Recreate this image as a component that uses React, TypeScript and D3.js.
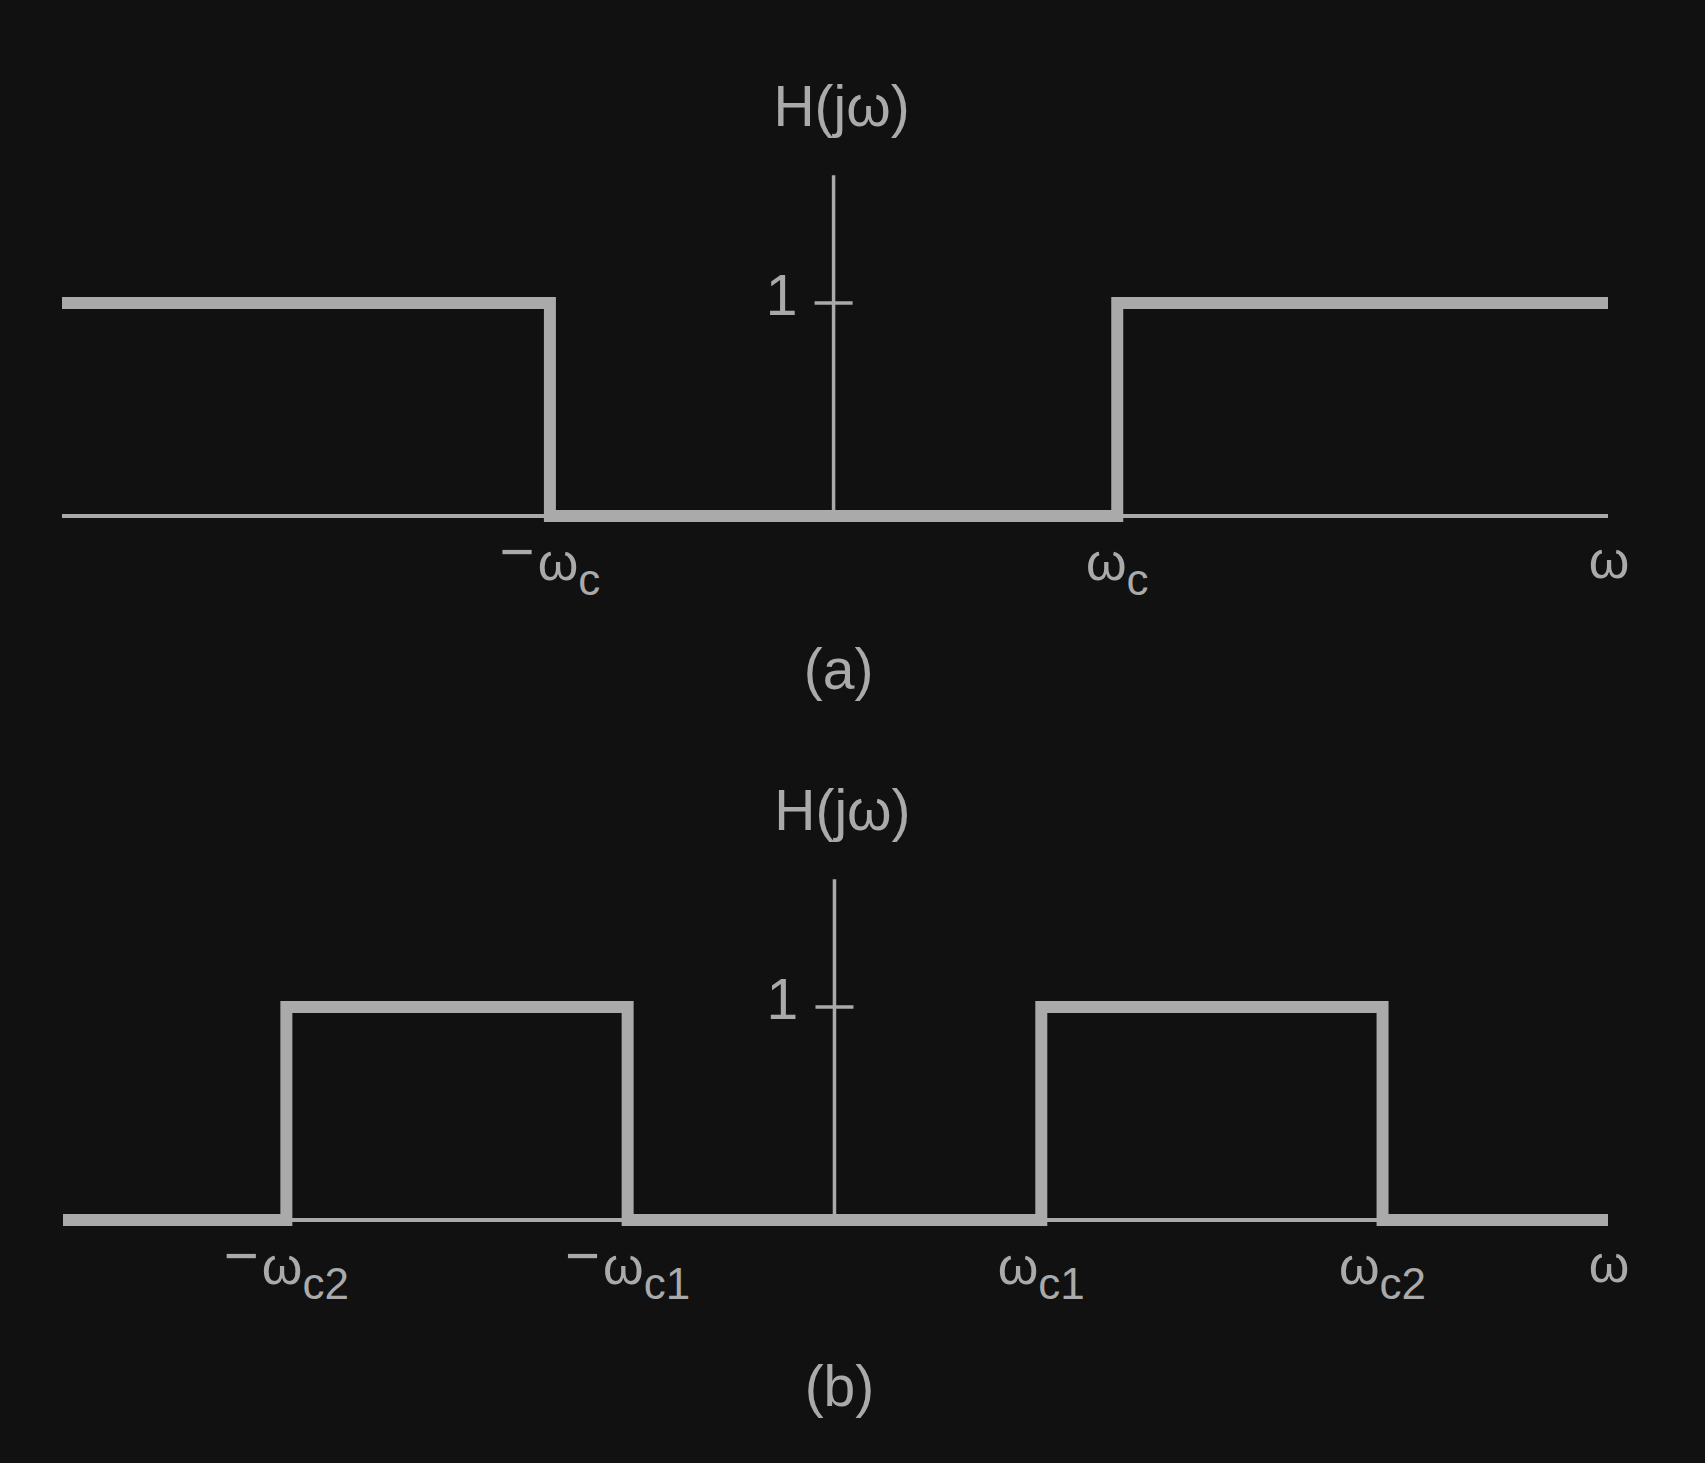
import * as React from "react"
import * as d3 from "d3"

// (a) ideal highpass, (b) ideal bandpass -- frequencies in units of wc / wc1
const hpEdges = [-2.72, -1, 1, 2.73]
const hpGains = [1, 0, 1]
const hpTicks = [
    { value: -1, neg: true, sub: "c" },
    { value: 1, neg: false, sub: "c" },
]

const bpEdges = [-3.73, -2.65, -1, 1, 2.65, 3.74]
const bpGains = [0, 1, 0, 1, 0]
const bpTicks = [
    { value: -2.65, neg: true, sub: "c2" },
    { value: -1, neg: true, sub: "c1" },
    { value: 1, neg: false, sub: "c1" },
    { value: 2.65, neg: false, sub: "c2" },
]

const yTicks = [1]
const axisTop = 1.6

const W = 1705
const H = 1463
const fg = "#aaaaaa"
const bg = "#111111"
const font = "'Liberation Sans', Arial, sans-serif"

function Panel(props) {
    const { edges, gains, ticks, y0, y1, left, right, caption, captionY } = props

    const x = d3.scaleLinear().domain([edges[0], edges[edges.length - 1]]).range([left, right])
    const y = d3.scaleLinear().domain([0, 1]).range([y0, y1])

    // each band becomes two points at its gain, so the path steps at the edges
    const pts = []
    gains.forEach((g, i) => {
        pts.push([edges[i], g])
        pts.push([edges[i + 1], g])
    })
    const line = d3.line().x((d) => x(d[0])).y((d) => y(d[1]))

    return (
        <g>
            <line x1={x(edges[0])} x2={x(edges[edges.length - 1])} y1={y(0)} y2={y(0)} stroke={fg} strokeWidth={4} />
            <line x1={x(0)} x2={x(0)} y1={y(0)} y2={y(axisTop)} stroke={fg} strokeWidth={3.5} />
            {yTicks.map((t) => (
                <g key={t}>
                    <line x1={x(0) - 19} x2={x(0) + 19} y1={y(t)} y2={y(t)} stroke={fg} strokeWidth={3.5} />
                    <text x={x(0) - 52} y={y(t) + 12} textAnchor="middle" fontSize={57} fill={fg}>{t}</text>
                </g>
            ))}
            <path d={line(pts)} fill="none" stroke={fg} strokeWidth={12} strokeLinejoin="miter" />
            <text x={x(0) + 8} y={y(axisTop) - 49} textAnchor="middle" fontSize={57} fill={fg}>H(jω)</text>
            {ticks.map((t, i) => (
                <text key={i} x={x(t.value)} y={y(0) + 64} textAnchor="middle" fontSize={52} fill={fg}>
                    {t.neg && <tspan dy={-8} fontSize={60}>−</tspan>}
                    <tspan dy={t.neg ? 8 : 0} dx={t.neg ? 3 : 0}>ω</tspan>
                    <tspan dy={15} fontSize={44}>{t.sub}</tspan>
                </text>
            ))}
            <text x={x(edges[edges.length - 1]) + 1} y={y(0) + 62} textAnchor="middle" fontSize={52} fill={fg}>ω</text>
            <text x={x(0) + 5} y={captionY} textAnchor="middle" fontSize={57} fill={fg}>{caption}</text>
        </g>
    )
}

export default function App() {
    return (
        <svg width={W} height={H} style={{ position: "absolute", left: 0, top: 0, background: bg }} fontFamily={font}>
            <rect width={W} height={H} fill={bg} />
            <Panel edges={hpEdges} gains={hpGains} ticks={hpTicks} y0={516} y1={303} left={62} right={1608} caption="(a)" captionY={689} />
            <Panel edges={bpEdges} gains={bpGains} ticks={bpTicks} y0={1220} y1={1007} left={63} right={1608} caption="(b)" captionY={1406} />
        </svg>
    )
}
